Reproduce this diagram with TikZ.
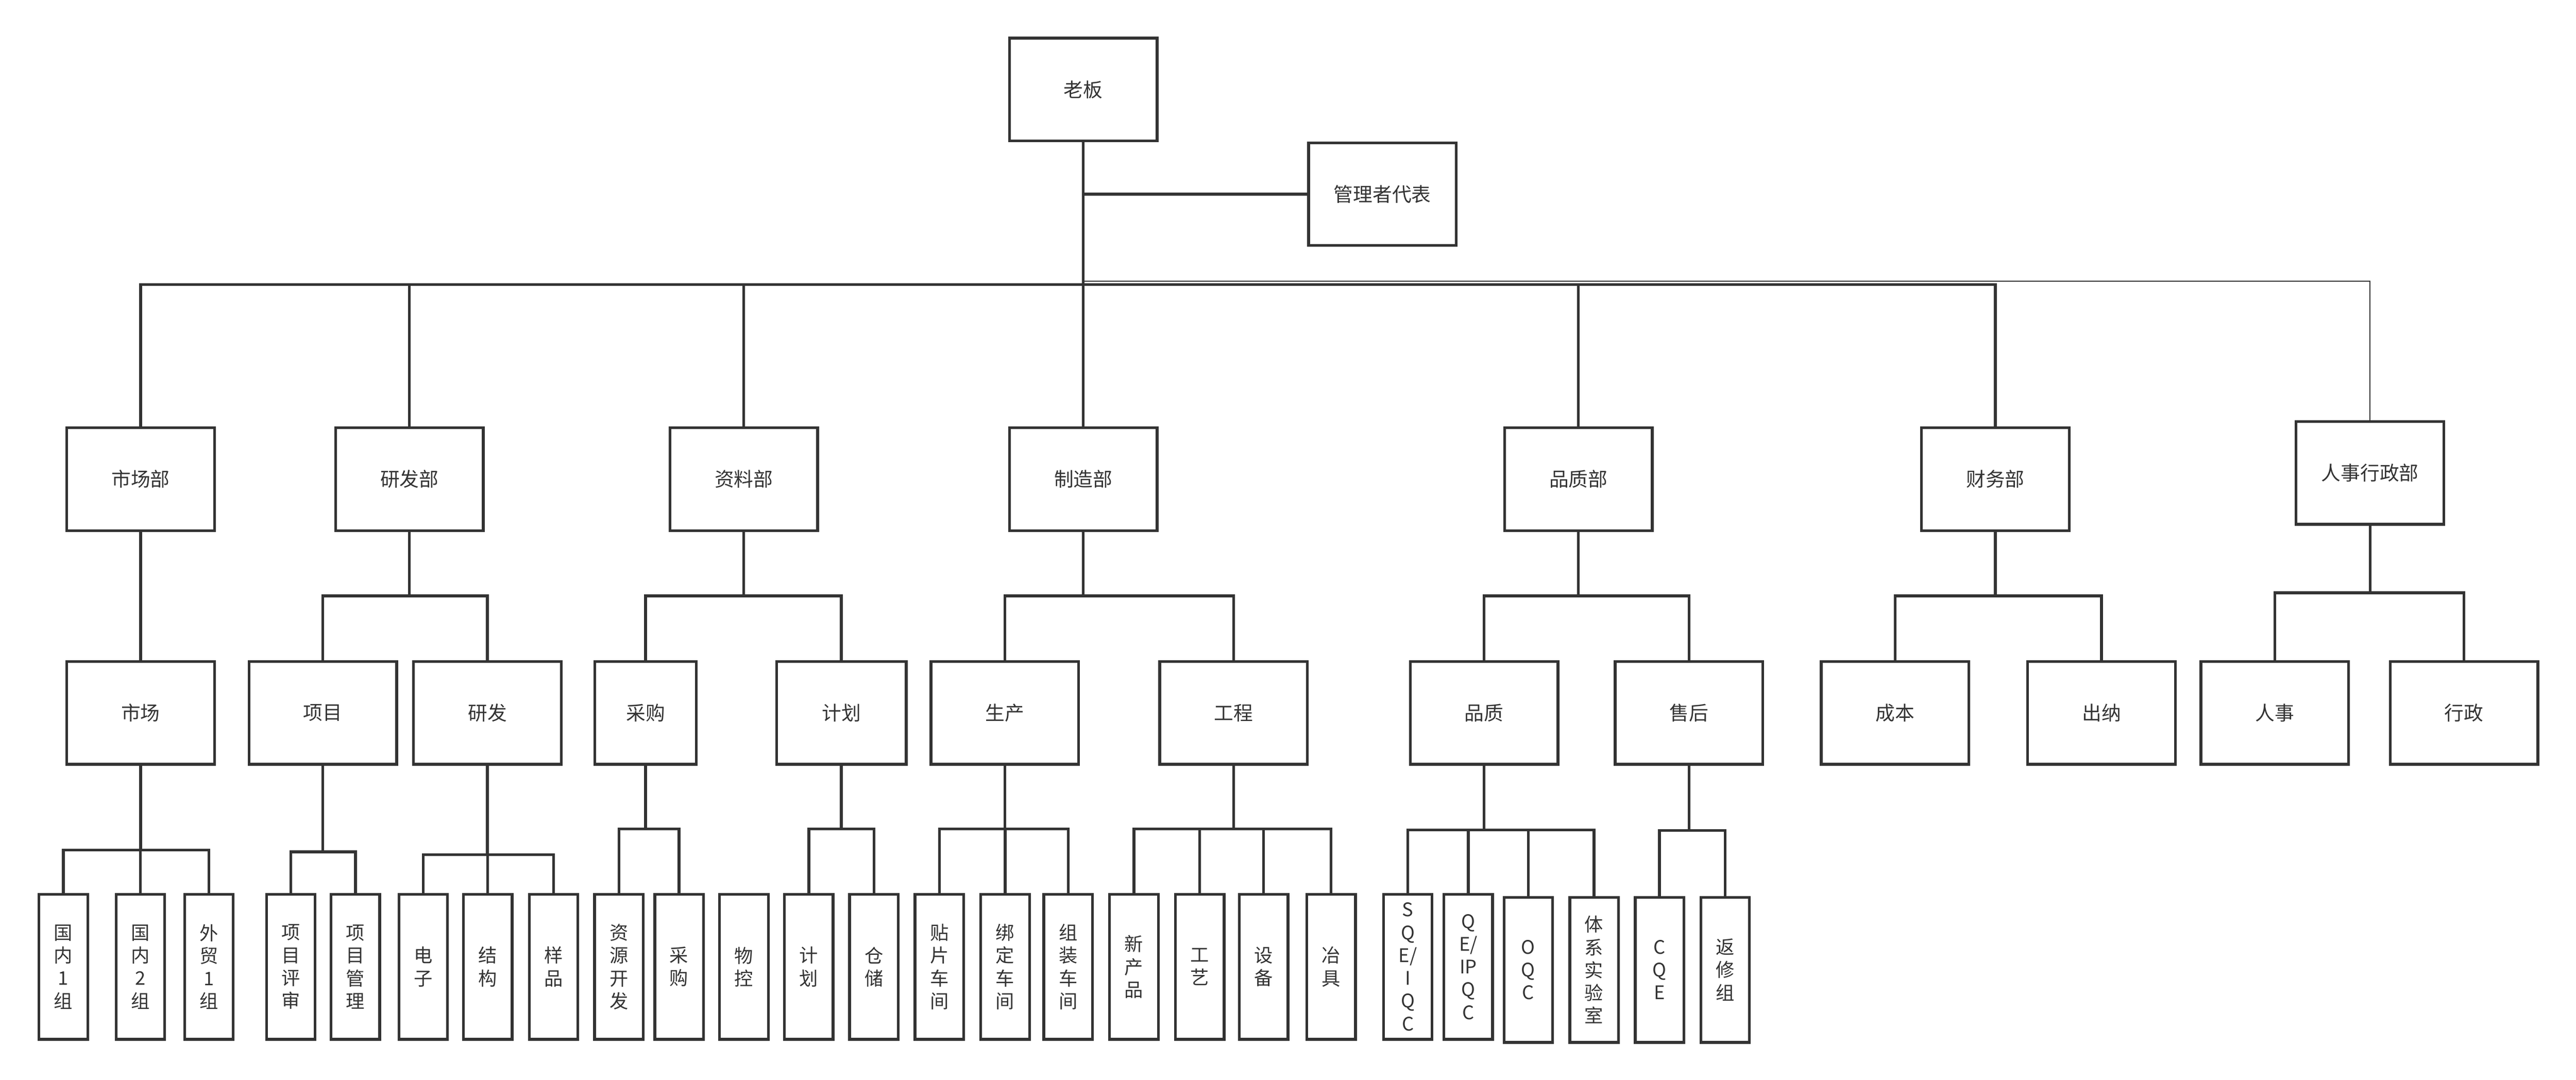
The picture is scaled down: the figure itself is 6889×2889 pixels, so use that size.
\documentclass[tikz,border=0pt]{standalone}
\usepackage{fontspec}
\setmainfont{Noto Sans CJK SC}
\usetikzlibrary{calc}
\definecolor{ink}{HTML}{333333}
\begin{document}
\begin{tikzpicture}[x=0.2pt,y=-0.2pt,color=ink,line width=1.45pt,
  box/.style={draw,rectangle,minimum width=79pt,minimum height=55pt,inner sep=0pt,font=\fontsize{10.4}{12.2}\selectfont},
  leaf/.style={draw,rectangle,minimum width=26pt,minimum height=77.6pt,inner sep=0pt,align=center,font=\fontsize{10}{12.2}\selectfont},
  thinline/.style={line width=0.5pt}]
\useasboundingbox (0,0) rectangle (6889,2889);
% top
\node[box] (laoban) at (2897,239.5) {老板};
\node[box] (glz) at (3697,519.5) {管理者代表};
% departments
\node[box] (scb) at (376,1282) {市场部};
\node[box] (yfb) at (1095,1282) {研发部};
\node[box] (zlb) at (1989,1282) {资料部};
\node[box] (zzb) at (2897,1282) {制造部};
\node[box] (pzb) at (4221,1282) {品质部};
\node[box] (cwb) at (5336,1282) {财务部};
\node[box] (rsxzb) at (6338,1265) {人事行政部};
% sections
\node[box] (sc) at (376,1907) {市场};
\node[box] (xm) at (863.5,1907) {项目};
\node[box] (yf) at (1303.5,1907) {研发};
\node[box,minimum width=54.4pt] (cg) at (1726.5,1907) {采购};
\node[box,minimum width=69.4pt] (jh) at (2250,1907) {计划};
\node[box] (scn) at (2687,1907) {生产};
\node[box] (gc) at (3299,1907) {工程};
\node[box] (pz) at (3969,1907) {品质};
\node[box] (sh) at (4517,1907) {售后};
\node[box] (cb) at (5068,1907) {成本};
\node[box] (cn) at (5620,1907) {出纳};
\node[box] (rs) at (6083.5,1907) {人事};
\node[box] (xz) at (6589.5,1907) {行政};
% leaves
\node[leaf] (l1) at (169.5,2586.5) {国\\内\\1\\组};
\node[leaf] (l2) at (375.5,2586.5) {国\\内\\2\\组};
\node[leaf] (l3) at (558.5,2586.5) {外\\贸\\1\\组};
\node[leaf] (l4) at (778,2586.5) {项\\目\\评\\审};
\node[leaf] (l5) at (950.5,2586.5) {项\\目\\管\\理};
\node[leaf] (l6) at (1132,2586.5) {电\\子};
\node[leaf] (l7) at (1304.5,2586.5) {结\\构};
\node[leaf] (l8) at (1480.5,2586.5) {样\\品};
\node[leaf] (l9) at (1655,2586.5) {资\\源\\开\\发};
\node[leaf] (l10) at (1816,2586.5) {采\\购};
\node[leaf] (l11) at (1989.5,2586.5) {物\\控};
\node[leaf] (l12) at (2163,2586.5) {计\\划};
\node[leaf] (l13) at (2337,2586.5) {仓\\储};
\node[leaf] (l14) at (2512,2586.5) {贴\\片\\车\\间};
\node[leaf] (l15) at (2688,2586.5) {绑\\定\\车\\间};
\node[leaf] (l16) at (2856.5,2586.5) {组\\装\\车\\间};
\node[leaf] (l17) at (3032.5,2586.5) {新\\产\\品};
\node[leaf] (l18) at (3208.5,2586.5) {工\\艺};
\node[leaf] (l19) at (3379.5,2586.5) {设\\备};
\node[leaf] (l20) at (3560,2586.5) {冶\\具};
\node[leaf] (l21) at (3765,2586.5) {S\\Q\\E/\\I\\Q\\C};
\node[leaf] (l22) at (3926.5,2586.5) {Q\\E/\\IP\\Q\\C};
\node[leaf] (l23) at (4087,2594.5) {O\\Q\\C};
\node[leaf] (l24) at (4263,2594.5) {体\\系\\实\\验\\室};
\node[leaf] (l25) at (4438,2594.5) {C\\Q\\E};
\node[leaf] (l26) at (4613.5,2594.5) {返\\修\\组};
% top connectors
\draw (laoban.south) -- (zzb.north);
\draw (laoban.south |- glz.west) -- (glz.west);
\draw (scb.north) -- (scb.north |- 0,761) -- (cwb.north |- 0,761) -- (cwb.north);
\draw (yfb.north) -- (yfb.north |- 0,761);
\draw (zlb.north) -- (zlb.north |- 0,761);
\draw (pzb.north) -- (pzb.north |- 0,761);
\draw[thinline] (laoban.south |- 0,752) -| (rsxzb.north);
% departments to sections
\draw (scb.south) -- (sc.north);
\draw (yfb.south) -- (yfb.south |- 0,1594);
\draw (xm.north) |- (yf.north |- 0,1594) -- (yf.north);
\draw (zlb.south) -- (zlb.south |- 0,1594);
\draw (cg.north) |- (jh.north |- 0,1594) -- (jh.north);
\draw (zzb.south) -- (zzb.south |- 0,1594);
\draw (scn.north) |- (gc.north |- 0,1594) -- (gc.north);
\draw (pzb.south) -- (pzb.south |- 0,1594);
\draw (pz.north) |- (sh.north |- 0,1594) -- (sh.north);
\draw (cwb.south) -- (cwb.south |- 0,1594);
\draw (cb.north) |- (cn.north |- 0,1594) -- (cn.north);
\draw (rsxzb.south) -- (rsxzb.south |- 0,1586);
\draw (rs.north) |- (xz.north |- 0,1586) -- (xz.north);
% sections to leaves
\draw (sc.south) -- (sc.south |- 0,2274);
\draw (l1.north) |- (l3.north |- 0,2274) -- (l3.north);
\draw (l2.north) -- (l2.north |- 0,2274);
\draw (xm.south) -- (xm.south |- 0,2279);
\draw (l4.north) |- (l5.north |- 0,2279) -- (l5.north);
\draw (yf.south) -- (yf.south |- 0,2286);
\draw (l6.north) |- (l8.north |- 0,2286) -- (l8.north);
\draw (l7.north) -- (l7.north |- 0,2286);
\draw (cg.south) -- (cg.south |- 0,2218);
\draw (l9.north) |- (l10.north |- 0,2218) -- (l10.north);
\draw (jh.south) -- (jh.south |- 0,2218);
\draw (l12.north) |- (l13.north |- 0,2218) -- (l13.north);
\draw (scn.south) -- (scn.south |- 0,2218);
\draw (l14.north) |- (l16.north |- 0,2218) -- (l16.north);
\draw (l15.north) -- (l15.north |- 0,2218);
\draw (gc.south) -- (gc.south |- 0,2218);
\draw (l17.north) |- (l20.north |- 0,2218) -- (l20.north);
\draw (l18.north) -- (l18.north |- 0,2218);
\draw (l19.north) -- (l19.north |- 0,2218);
\draw (pz.south) -- (pz.south |- 0,2220);
\draw (l21.north) |- (l24.north |- 0,2220) -- (l24.north);
\draw (l22.north) -- (l22.north |- 0,2220);
\draw (l23.north) -- (l23.north |- 0,2220);
\draw (sh.south) -- (sh.south |- 0,2222);
\draw (l25.north) |- (l26.north |- 0,2222) -- (l26.north);
\end{tikzpicture}
\end{document}
